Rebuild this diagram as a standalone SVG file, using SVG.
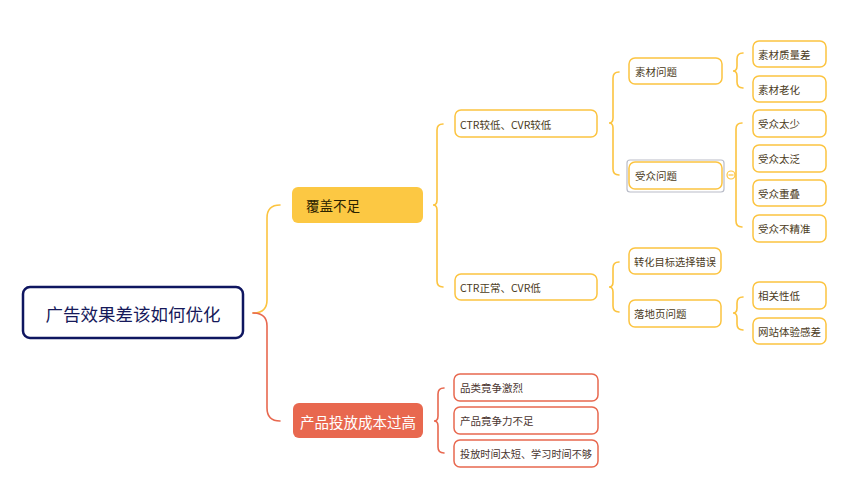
<svg xmlns="http://www.w3.org/2000/svg" width="860" height="495" viewBox="0 0 860 495">
<style>
text{font-family:"Noto Sans CJK SC","Microsoft YaHei","Liberation Sans",sans-serif;dominant-baseline:central}
.ln{fill:none;stroke-width:1.6;stroke-linecap:round}
.y{stroke:#FCC440}
.r{stroke:#E8684F}
.by{fill:#fff;stroke:#FCC440;stroke-width:1.5}
.br{fill:#fff;stroke:#E8684F;stroke-width:1.5}
.t{font-size:10.5px;fill:#4b3b22}
.tr{font-size:10.5px;fill:#4a3530}
</style>
<rect width="860" height="495" fill="#fff"/>
<g id="connectors">
<path class="ln y" stroke-width="2" d="M253,313 Q267,313 267,300 V218 Q267,205 280,205"/>
<path class="ln r" stroke-width="2" d="M253,313 Q267,313 267,326 V408 Q267,421 280,421"/>
<path class="ln y" d="M443,124 Q437,124 437,130 V200 Q437,205 433,205 Q437,205 437,210 V281 Q437,287 443,287"/>
<path class="ln r" d="M444,388 Q438,388 438,394 V416 Q438,421 434,421 Q438,421 438,426 V447 Q438,453 444,453"/>
<path class="ln y" d="M619,72 Q613,72 613,78 V118 Q613,123 609,123 Q613,123 613,128 V169 Q613,175 619,175"/>
<path class="ln y" d="M619,262 Q613,262 613,268 V282 Q613,287 609,287 Q613,287 613,292 V306 Q613,312 619,312"/>
<path class="ln y" d="M743,53 Q737,53 737,59 V66 Q737,71 733,71 Q737,71 737,76 V82 Q737,88 743,88"/>
<path class="ln y" d="M742,123 Q736,123 736,129 V221 Q736,227 742,227"/>
<path class="ln y" d="M743,297 Q737,297 737,303 V308 Q737,313 733,313 Q737,313 737,318 V324 Q737,330 743,330"/>
<circle cx="731" cy="175" r="4" fill="#fff" stroke="#FCC440" stroke-width="1.2"/>
<line x1="728.5" y1="175" x2="733.5" y2="175" stroke="#FCC440" stroke-width="1.2"/>
</g>
<g id="root">
<rect x="23" y="287" width="220" height="51" rx="7" fill="#fff" stroke="#0f1660" stroke-width="2.5"/>
<text x="133" y="313" text-anchor="middle" font-size="17.5" fill="#16195a">广告效果差该如何优化</text>
</g>
<g id="n-fugai">
<rect x="292" y="187" width="131" height="36" rx="6" fill="#FCC843"/>
<text x="306" y="205" font-size="13.5" fill="#2a2100">覆盖不足</text>
</g>
<g id="n-chanpin">
<rect x="293" y="403" width="130" height="35" rx="6" fill="#E8684F"/>
<text x="358" y="421" text-anchor="middle" font-size="14.5" fill="#fff">产品投放成本过高</text>
</g>
<g id="n-ctr1">
<rect class="by" x="455" y="110" width="142" height="27" rx="6"/>
<text class="t" x="460" y="124">CTR较低、CVR较低</text>
</g>
<g id="n-ctr2">
<rect class="by" x="455" y="274" width="142" height="26" rx="6"/>
<text class="t" x="460" y="287">CTR正常、CVR低</text>
</g>
<g id="n-sucai">
<rect class="by" x="629" y="58" width="93" height="26" rx="6"/>
<text class="t" x="635" y="71">素材问题</text>
</g>
<g id="n-shouzhong">
<rect x="627" y="160" width="97" height="32" rx="3" fill="none" stroke="#b9bcc8" stroke-width="1.2"/>
<rect class="by" x="629" y="162" width="93" height="27" rx="6"/>
<text class="t" x="635" y="175.5">受众问题</text>
</g>
<g id="n-zhuanhua">
<rect class="by" x="629" y="248" width="92" height="26" rx="6"/>
<text class="t" x="634" y="261" textLength="82" lengthAdjust="spacingAndGlyphs">转化目标选择错误</text>
</g>
<g id="n-luodi">
<rect class="by" x="629" y="300" width="92" height="27" rx="6"/>
<text class="t" x="634" y="313.5">落地页问题</text>
</g>
<g id="n-zhiliang">
<rect class="by" x="753" y="41" width="73" height="26" rx="6"/>
<text class="t" x="758" y="54">素材质量差</text>
</g>
<g id="n-laohua">
<rect class="by" x="753" y="76" width="73" height="26" rx="6"/>
<text class="t" x="758" y="89">素材老化</text>
</g>
<g id="n-taishao">
<rect class="by" x="753" y="110" width="73" height="27" rx="6"/>
<text class="t" x="758" y="123.5">受众太少</text>
</g>
<g id="n-taifan">
<rect class="by" x="753" y="145" width="73" height="27" rx="6"/>
<text class="t" x="758" y="158.5">受众太泛</text>
</g>
<g id="n-chongdie">
<rect class="by" x="753" y="180" width="73" height="26" rx="6"/>
<text class="t" x="758" y="193">受众重叠</text>
</g>
<g id="n-bujingzhun">
<rect class="by" x="753" y="215" width="73" height="27" rx="6"/>
<text class="t" x="758" y="228.5">受众不精准</text>
</g>
<g id="n-xiangguan">
<rect class="by" x="753" y="282" width="73" height="27" rx="6"/>
<text class="t" x="758" y="295.5">相关性低</text>
</g>
<g id="n-wangzhan">
<rect class="by" x="753" y="318" width="73" height="26" rx="6"/>
<text class="t" x="758" y="331" textLength="63" lengthAdjust="spacingAndGlyphs">网站体验感差</text>
</g>
<g id="n-pinlei">
<rect class="br" x="454" y="374" width="144" height="27" rx="6"/>
<text class="tr" x="460" y="387.5">品类竟争激烈</text>
</g>
<g id="n-jingzhengli">
<rect class="br" x="454" y="407" width="144" height="27" rx="6"/>
<text class="tr" x="460" y="420.5">产品竟争力不足</text>
</g>
<g id="n-shijian">
<rect class="br" x="454" y="440" width="144" height="27" rx="6"/>
<text class="tr" x="460" y="453.5" textLength="132" lengthAdjust="spacingAndGlyphs">投放时间太短、学习时间不够</text>
</g>
</svg>
